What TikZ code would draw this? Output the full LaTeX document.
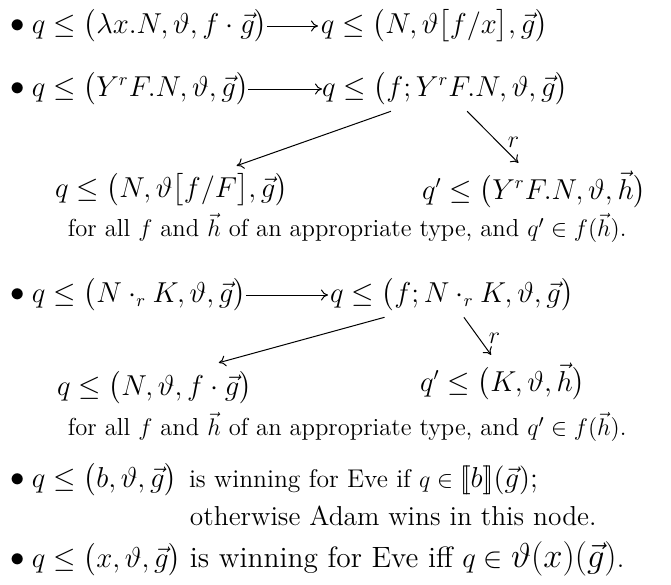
\documentclass[tikz,border=0pt]{standalone}
\usepackage{amsmath,amssymb}
\usetikzlibrary{arrows.meta,calc}
\begin{document}
\begin{tikzpicture}[x=0.5pt,y=-0.5pt,
  every node/.style={inner sep=0pt,outer sep=0pt},
  big/.style={font=\fontsize{13.5}{16}\selectfont},
  small/.style={font=\fontsize{12.3}{14}\selectfont},
  smallish/.style={font=\fontsize{12.8}{15}\selectfont},
  mid/.style={font=\fontsize{13.7}{16}\selectfont},
  large/.style={font=\fontsize{14.7}{17}\selectfont},
  arr/.style={-{To[length=3.5pt,width=5.5pt]},line width=0.5pt}]
\useasboundingbox (0,0) rectangle (671,585);
% row 1
\node[big] (p1) at (18,26) {$\bullet$};
\node[big,anchor=west] (a1) at (32,26) {$q\leq\bigl(\lambda x.N,\vartheta,f\cdot\vec g\bigr)$};
\node[big,anchor=west] (b1) at (321,26) {$q\leq\bigl(N,\vartheta\bigl[f/x\bigr],\vec g\bigr)$};
\draw[arr] (a1.east) -- ($(b1.west)+(-3,0)$);
% row 2
\node[big] (p2) at (18,89) {$\bullet$};
\node[big,anchor=west] (a2) at (32,89) {$q\leq\bigl(Y^rF.N,\vartheta,\vec g\bigr)$};
\node[big,anchor=west] (b2) at (322,89) {$q\leq\bigl(f;Y^rF.N,\vartheta,\vec g\bigr)$};
\node[big,anchor=west] (c2) at (55,190) {$q\leq\bigl(N,\vartheta\bigl[f/F\bigr],\vec g\bigr)$};
\node[big,anchor=west] (d2) at (422,190) {$q'\leq\bigl(Y^rF.N,\vartheta,\vec h\bigr)$};
\node[small,anchor=west] (n2) at (68,228) {for all $f$ and $\vec h$ of an appropriate type, and $q'\in f(\vec h)$.};
\draw[arr] (a2.east) -- (b2.west);
\draw[arr] ($($(b2.south west)!0.28!(b2.south east)$)+(0,5)$) -- ($($(c2.north west)!0.78!(c2.north east)$)+(0,-7)$);
\draw[arr] ($($(b2.south west)!0.59!(b2.south east)$)+(0,5)$) -- node[small,pos=0.6,right=5pt] (r2) {$r$} ($($(d2.north west)!0.43!(d2.north east)$)+(0,-8)$);
% row 4
\node[big] (p4) at (18,295) {$\bullet$};
\node[big,anchor=west] (a4) at (32,295) {$q\leq\bigl(N\cdot_r K,\vartheta,\vec g\bigr)$};
\node[big,anchor=west] (b4) at (330,295) {$q\leq\bigl(f;N\cdot_r K,\vartheta,\vec g\bigr)$};
\node[big,anchor=west] (c4) at (57,388) {$q\leq\bigl(N,\vartheta,f\cdot\vec g\bigr)$};
\node[big,anchor=west] (d4) at (420,382) {$q'\leq\bigl(K,\vartheta,\vec h\bigr)$};
\node[small,anchor=west] (n4) at (68,427) {for all $f$ and $\vec h$ of an appropriate type, and $q'\in f(\vec h)$.};
\draw[arr] (a4.east) -- ($(b4.west)+(-2,0)$);
\draw[arr] ($($(b4.south west)!0.224!(b4.south east)$)+(0,5)$) -- ($($(c4.north west)!0.83!(c4.north east)$)+(0,-8)$);
\draw[arr] ($($(b4.south west)!0.55!(b4.south east)$)+(0,5)$) -- node[small,pos=0.55,right=5pt] (r4) {$r$} ($($(d4.north west)!0.43!(d4.north east)$)+(0,-8)$);
% row 6
\node[big] (p6) at (18,480) {$\bullet$};
\node[big,anchor=west] (e6) at (32,480) {$q\leq\bigl(b,\vartheta,\vec g\bigr)$};
\node[smallish,anchor=base west] (t6) at (189,0 |- e6.base) {is winning for Eve if {\fontsize{13}{16}\selectfont$q\in{}$}\fontsize{14.5}{17}\selectfont$[\![b]\!](\vec g)$;};
\node[mid,anchor=base west] (u6) at ($(t6.base west)+(1,38)$) {otherwise Adam wins in this node.};
% row 7
\node[big] (p7) at (18,560) {$\bullet$};
\node[big,anchor=west] (e7) at (32,560) {$q\leq\bigl(x,\vartheta,\vec g\bigr)$};
\node[large,anchor=base west] (t7) at (190,0 |- e7.base) {is winning for Eve iff {\fontsize{14}{17}\selectfont$q\in{}$}\fontsize{16}{19}\selectfont$\vartheta(x)(\vec g)$.};
\end{tikzpicture}
\end{document}
